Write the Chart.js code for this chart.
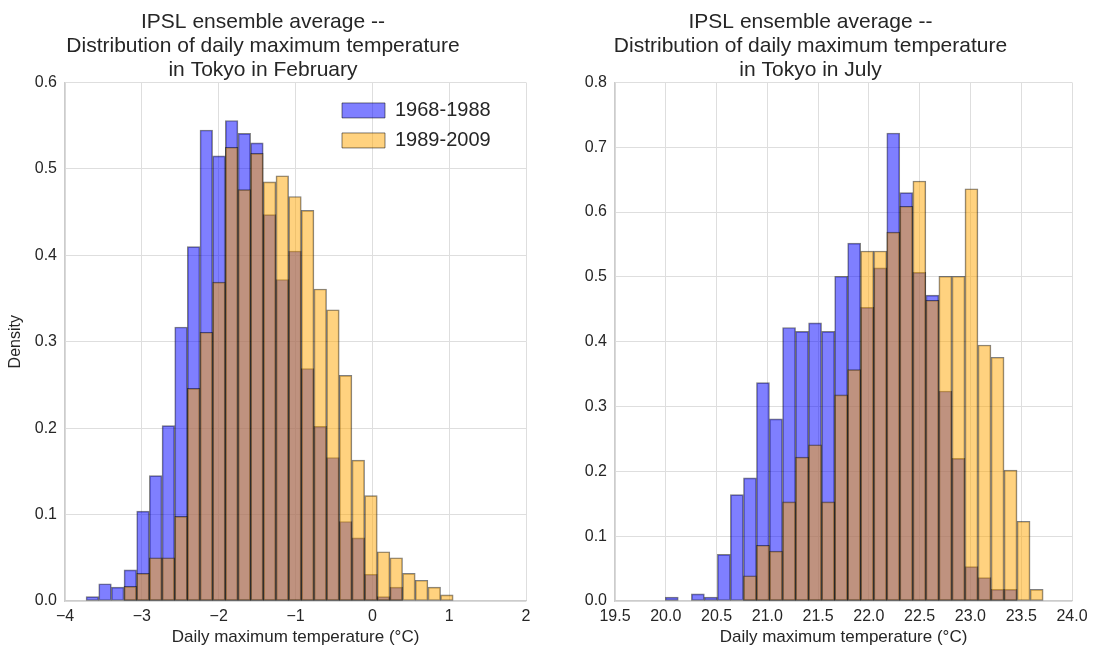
<!DOCTYPE html>
<html lang="en">
<head>
    <meta charset="UTF-8">
    <script src="https://cdn.jsdelivr.net/npm/chart.js"></script>
    <title>IPSL ensemble average - Tokyo</title>
    <style>
        body {
            margin: 0;
            background: #ffffff;
            font-family: "Liberation Sans", Arial, sans-serif;
        }
        .panel {
            position: absolute;
            top: 0;
            width: 549px;
            height: 650px;
        }
        #febBox { left: 0; }
        #julBox { left: 549px; }
    </style>
</head>
<body>
<div class="panel" id="febBox"><canvas id="febChart"></canvas></div>
<div class="panel" id="julBox"><canvas id="julChart"></canvas></div>
<script>
    const seriesNames = ['1968-1988', '1989-2009'];
    const xLabel = 'Daily maximum temperature (°C)';

    // February: bin centres (°C) and densities
    const febBins = [-3.644, -3.479, -3.314, -3.150, -2.985, -2.820, -2.655, -2.490, -2.326, -2.161,
        -1.996, -1.831, -1.666, -1.502, -1.337, -1.172, -1.007, -0.842, -0.678, -0.513,
        -0.348, -0.183, -0.018, 0.146, 0.311, 0.476, 0.641, 0.806, 0.970];
    const febEarly = [0.005, 0.020, 0.016, 0.036, 0.104, 0.145, 0.203, 0.317, 0.410, 0.545,
        0.515, 0.556, 0.541, 0.530, 0.447, 0.372, 0.405, 0.269, 0.202, 0.166,
        0.092, 0.073, 0.031, 0.005, 0.016, null, null, null, null];
    const febLate = [null, null, null, 0.017, 0.032, 0.050, 0.050, 0.098, 0.246, 0.311,
        0.369, 0.525, 0.476, 0.518, 0.485, 0.492, 0.468, 0.452, 0.361, 0.337,
        0.261, 0.163, 0.122, 0.057, 0.050, 0.032, 0.024, 0.016, 0.007];
    const febTitle = ['IPSL ensemble average --', 'Distribution of daily maximum temperature', 'in Tokyo in February'];

    // July
    const julBins = [20.059, 20.187, 20.316, 20.444, 20.572, 20.700, 20.829, 20.957, 21.085, 21.214,
        21.342, 21.470, 21.599, 21.727, 21.855, 21.983, 22.112, 22.240, 22.368, 22.497,
        22.625, 22.753, 22.882, 23.010, 23.138, 23.267, 23.395, 23.523, 23.652];
    const julEarly = [0.006, null, 0.011, 0.006, 0.072, 0.164, 0.190, 0.337, 0.281, 0.422,
        0.416, 0.429, 0.416, 0.501, 0.552, 0.453, 0.514, 0.722, 0.630, 0.507,
        0.472, 0.324, 0.220, 0.053, 0.036, 0.018, 0.018, null, null];
    const julLate = [null, null, null, null, null, null, 0.039, 0.086, 0.077, 0.153,
        0.222, 0.241, 0.153, 0.318, 0.357, 0.540, 0.540, 0.569, 0.609, 0.648,
        0.464, 0.501, 0.501, 0.636, 0.395, 0.376, 0.202, 0.123, 0.018];
    const julTitle = ['IPSL ensemble average --', 'Distribution of daily maximum temperature', 'in Tokyo in July'];

    const textColor = '#262626';
    const gridColor = '#dedede';
    const frameColor = '#cccccc';

    // moves the legend into the upper right corner of the plot
    const legendInside = {
        id: 'legendInside',
        afterLayout(chart) {
            const lg = chart.legend;
            if (!lg || !lg.options.display) return;
            const area = chart.chartArea;
            const w = lg.width, h = lg.height;
            lg.left = area.right - 194;
            lg.right = lg.left + w;
            lg.top = area.top + 8;
            lg.bottom = lg.top + h;
        }
    };

    function histChart(divID, bins, early, late, title, xRange, yMax, withLegend, yWidth, padRight) {
        const ctx = document.getElementById(divID);
        const barStyle = {
            borderColor: 'rgba(0,0,0,0.5)',
            borderWidth: 1,
            borderSkipped: false,
            grouped: false,
            barPercentage: 1,
            categoryPercentage: 1
        };
        new Chart(ctx, {
            type: 'bar',
            data: {
                datasets: [
                    Object.assign({
                        label: seriesNames[0],
                        data: bins.map((x, i) => ({x: x, y: early[i]})),
                        backgroundColor: 'rgba(0,0,255,0.5)',
                        order: 2
                    }, barStyle),
                    Object.assign({
                        label: seriesNames[1],
                        data: bins.map((x, i) => ({x: x, y: late[i]})),
                        backgroundColor: 'rgba(255,165,0,0.5)',
                        order: 1
                    }, barStyle)
                ]
            },
            plugins: [legendInside],
            options: {
                responsive: true,
                maintainAspectRatio: false,
                animation: false,
                events: [],
                layout: {padding: {left: 0, right: padRight, top: 0, bottom: 0}},
                plugins: {
                    title: {
                        display: true,
                        text: title,
                        color: textColor,
                        font: {family: '"Liberation Sans", Arial', size: 21, weight: 'normal', lineHeight: 1.15},
                        padding: {top: 10, bottom: 0}
                    },
                    legend: {
                        display: withLegend,
                        position: 'chartArea',
                        align: 'start',
                        labels: {
                            boxWidth: 43,
                            boxHeight: 15,
                            padding: 10,
                            color: textColor,
                            font: {family: '"Liberation Sans", Arial', size: 20},
                            sort: (a, b) => a.datasetIndex - b.datasetIndex
                        }
                    },
                    tooltip: {enabled: false}
                },
                scales: {
                    x: {
                        type: 'linear',
                        min: xRange[0],
                        max: xRange[1],
                        offset: false,
                        grid: {color: gridColor, drawTicks: false, offset: false},
                        border: {color: frameColor, width: 1.25},
                        ticks: {
                            stepSize: xRange[2],
                            padding: 6,
                            color: textColor,
                            font: {family: '"Liberation Sans", Arial', size: 16},
                            callback: v => (xRange[2] < 1 ? v.toFixed(1) : String(v)).replace('-', '\u2212')
                        },
                        title: {
                            display: true,
                            text: xLabel,
                            color: textColor,
                            font: {family: '"Liberation Sans", Arial', size: 17},
                            padding: {top: 0, bottom: 2}
                        },
                        afterFit: scale => { scale.height = 49; }
                    },
                    y: {
                        min: 0,
                        max: yMax,
                        grid: {color: gridColor, drawTicks: false},
                        border: {color: frameColor, width: 1.25},
                        ticks: {
                            stepSize: 0.1,
                            padding: 8,
                            color: textColor,
                            font: {family: '"Liberation Sans", Arial', size: 16},
                            callback: v => v.toFixed(1)
                        },
                        title: {
                            display: withLegend,
                            text: 'Density',
                            color: textColor,
                            font: {family: '"Liberation Sans", Arial', size: 16},
                            padding: {top: 6, bottom: 0}
                        },
                        afterFit: scale => { scale.width = yWidth; }
                    }
                }
            }
        });
    }

    histChart('febChart', febBins, febEarly, febLate, febTitle, [-4, 2, 1], 0.6, true, 65, 23);
    histChart('julChart', julBins, julEarly, julLate, julTitle, [19.5, 24, 0.5], 0.8, false, 66, 26);
</script>
</body>
</html>
